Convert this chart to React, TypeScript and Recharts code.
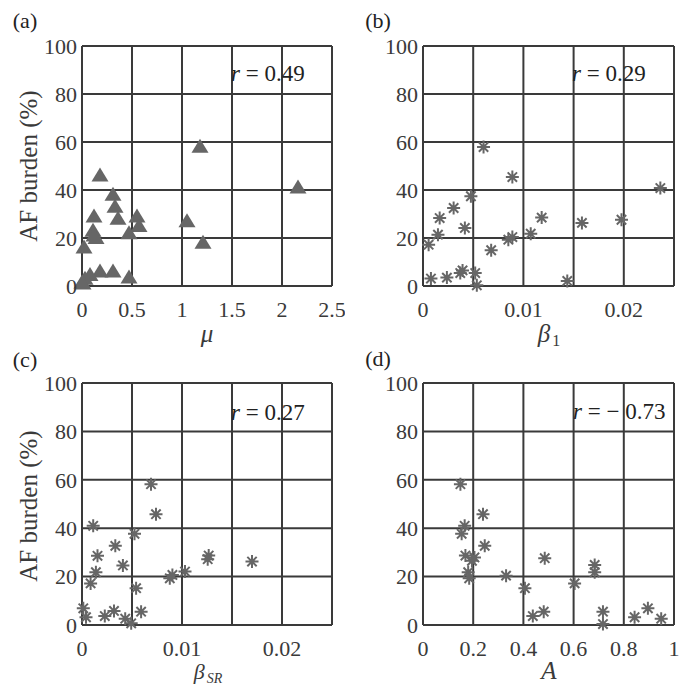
import { ScatterChart, Scatter, XAxis, YAxis, CartesianGrid } from 'recharts';

// (a) AF burden vs mu
const muValues = [1.18, 2.16, 0.18, 0.31, 0.33, 0.36, 0.12, 0.55, 0.57, 0.47, 1.05, 1.21, 0.11, 0.14, 0.02, 0.18, 0.31, 0.47, 0.08, 0.03, 0.01, 0.12, 0.0];
const muBurden = [58, 41, 46, 38, 33, 28, 29, 29, 25, 22, 27, 18, 23, 20, 16, 6, 6, 3.5, 4.6, 3, 1, 21, 1.5];

// (b) AF burden vs beta_1
const beta1Values = [0.00603, 0.0089, 0.02364, 0.00477, 0.00305, 0.00166, 0.00417, 0.00149, 0.00056, 0.01182, 0.01583, 0.01977, 0.01073, 0.0089, 0.0085, 0.00679, 0.00079, 0.00238, 0.00371, 0.00394, 0.0052, 0.00536, 0.01437];
const beta1Burden = [57.9, 45.4, 40.8, 37.4, 32.5, 28.3, 24.2, 21.4, 17.2, 28.5, 26.3, 27.6, 21.8, 20.4, 19.3, 14.9, 3.1, 3.5, 5.4, 6.5, 5.4, 0.3, 2.1];

// (c) AF burden vs beta_SR
const betaSRValues = [0.0069, 0.0074, 0.00112, 0.00525, 0.00333, 0.00155, 0.00409, 0.00139, 0.00086, 0.00541, 0.01267, 0.01257, 0.017, 0.0103, 0.00904, 0.00878, 0.00013, 0.0004, 0.00228, 0.0032, 0.00432, 0.00492, 0.00591];
const betaSRBurden = [58.2, 45.8, 41.0, 37.7, 32.7, 28.6, 24.6, 21.8, 17.2, 15.2, 28.7, 27.2, 26.2, 22.1, 20.7, 19.3, 6.9, 3.2, 3.7, 5.8, 2.6, 0.7, 5.5];

// (d) AF burden vs A
const aValues = [0.149, 0.239, 0.166, 0.154, 0.246, 0.169, 0.205, 0.195, 0.485, 0.18, 0.184, 0.331, 0.406, 0.604, 0.684, 0.684, 0.4375, 0.481, 0.717, 0.717, 0.843, 0.896, 0.949];
const aBurden = [58.2, 45.8, 41.0, 37.7, 32.7, 28.7, 27.9, 26.5, 27.6, 21.8, 19.3, 20.4, 15.2, 17.2, 24.8, 21.8, 3.7, 5.5, 5.5, 0.4, 3.2, 6.9, 2.6];

const yTicks = [0, 20, 40, 60, 80, 100];
const muTicks = [0, 0.5, 1, 1.5, 2, 2.5];
const betaTicks = [0, 0.005, 0.01, 0.015, 0.02, 0.025];
const betaTickLabels = [0, 0.01, 0.02];
const aTicks = [0, 0.2, 0.4, 0.6, 0.8, 1];
const rLabels = ['0.49', '0.29', '0.27', '\u2212 0.73'];

const GRID = '#3a3a3a';
const MARK = '#666666';
const TEXT = '#3a3a3a';
const FONT = 'Liberation Serif';

const toPoints = (xs: number[], ys: number[]) => xs.map((x, i) => ({ x, y: ys[i] }));

const Triangle = (props: any) => {
  const { cx, cy } = props;
  if (cx == null || cy == null) return null;
  return <polygon points={`${cx},${cy - 8} ${cx - 8.5},${cy + 6} ${cx + 8.5},${cy + 6}`} fill={MARK} />;
};

const Asterisk = (props: any) => {
  const { cx, cy } = props;
  if (cx == null || cy == null) return null;
  const r = 6.5;
  const d = r * 0.72;
  return (
    <path
      d={`M${cx - r},${cy}H${cx + r}M${cx},${cy - r}V${cy + r}M${cx - d},${cy - d}L${cx + d},${cy + d}M${cx - d},${cy + d}L${cx + d},${cy - d}`}
      stroke={MARK}
      strokeWidth={2}
      fill="none"
    />
  );
};

const fmtBeta = (v: number) => (betaTickLabels.some((t) => Math.abs(t - v) < 1e-9) ? String(v) : '');

const panels = [
  { key: 'a', left: 0, top: 0, height: 330, margin: { top: 46, left: 42, right: 13, bottom: 14 }, data: toPoints(muValues, muBurden), domain: [0, 2.5], ticks: muTicks, fmt: (v: number) => String(v), shape: Triangle },
  { key: 'b', left: 344, top: 0, height: 330, margin: { top: 46, left: 39, right: 15, bottom: 14 }, data: toPoints(beta1Values, beta1Burden), domain: [0, 0.025], ticks: betaTicks, fmt: fmtBeta, shape: Asterisk },
  { key: 'c', left: 0, top: 338, height: 345, margin: { top: 45, left: 42, right: 13, bottom: 28 }, data: toPoints(betaSRValues, betaSRBurden), domain: [0, 0.025], ticks: betaTicks, fmt: fmtBeta, shape: Asterisk },
  { key: 'd', left: 344, top: 338, height: 345, margin: { top: 45, left: 39, right: 15, bottom: 28 }, data: toPoints(aValues, aBurden), domain: [0, 1], ticks: aTicks, fmt: (v: number) => String(v), shape: Asterisk },
];

const labelStyle = (x: number, y: number, size: number, extra: any = {}) => ({
  position: 'absolute' as const,
  left: x,
  top: y,
  transform: 'translate(-50%, -50%)',
  fontFamily: FONT,
  fontSize: size,
  lineHeight: 1,
  whiteSpace: 'nowrap' as const,
  color: TEXT,
  ...extra,
});

const subStyle = (size: number, italic: boolean) => ({
  fontSize: size,
  position: 'relative' as const,
  top: 4,
  marginLeft: 2,
  fontStyle: italic ? 'italic' : 'normal',
});

const rBoxes = [
  { x: 231, y: 73 },
  { x: 572, y: 73 },
  { x: 231, y: 412 },
  { x: 573, y: 411 },
];

export default function App() {
  return (
    <div style={{ position: 'absolute', left: 0, top: 0, width: 689, height: 685, background: '#fff', overflow: 'hidden' }}>
      {panels.map((p) => (
        <div key={p.key} style={{ position: 'absolute', left: p.left, top: p.top }}>
          <ScatterChart width={345} height={p.height} margin={p.margin}>
            <CartesianGrid stroke={GRID} strokeWidth={2} />
            <XAxis
              type="number"
              dataKey="x"
              domain={p.domain}
              ticks={p.ticks}
              tickFormatter={p.fmt}
              interval={0}
              height={30}
              tickLine={false}
              tickSize={0}
              tickMargin={15}
              axisLine={{ stroke: GRID, strokeWidth: 2 }}
              tick={{ fontSize: 22, fill: TEXT, fontFamily: FONT }}
            />
            <YAxis
              type="number"
              dataKey="y"
              domain={[0, 100]}
              ticks={yTicks}
              interval={0}
              width={40}
              tickLine={false}
              tickSize={0}
              tickMargin={5}
              axisLine={{ stroke: GRID, strokeWidth: 2 }}
              tick={{ fontSize: 22, fill: TEXT, fontFamily: FONT }}
            />
            <Scatter data={p.data} shape={p.shape} isAnimationActive={false} />
          </ScatterChart>
        </div>
      ))}

      {/* panel letters */}
      <div style={labelStyle(25, 21, 22, { color: '#222' })}>(a)</div>
      <div style={labelStyle(378, 21, 22, { color: '#222' })}>(b)</div>
      <div style={labelStyle(25, 360, 22, { color: '#222' })}>(c)</div>
      <div style={labelStyle(378, 359, 22, { color: '#222' })}>(d)</div>

      {/* y axis titles */}
      <div style={labelStyle(28, 166, 25, { transform: 'translate(-50%, -50%) rotate(-90deg)' })}>AF burden (%)</div>
      <div style={labelStyle(28, 506, 25, { transform: 'translate(-50%, -50%) rotate(-90deg)' })}>AF burden (%)</div>

      {/* x axis titles */}
      <div style={labelStyle(207, 333, 25, { fontStyle: 'italic' })}>μ</div>
      <div style={labelStyle(549, 333, 25)}>
        <i>β</i>
        <span style={subStyle(16, false)}>1</span>
      </div>
      <div style={labelStyle(208, 672, 22)}>
        <i>β</i>
        <span style={subStyle(14, true)}>SR</span>
      </div>
      <div style={labelStyle(549, 670, 25, { fontStyle: 'italic' })}>A</div>

      {/* correlation labels */}
      {rBoxes.map((b, i) => (
        <div
          key={i}
          style={{
            position: 'absolute',
            left: b.x,
            top: b.y,
            transform: 'translateY(-50%)',
            fontFamily: FONT,
            fontSize: 23,
            lineHeight: 1,
            whiteSpace: 'nowrap',
            color: '#222',
          }}
        >
          <i>r</i> = {rLabels[i]}
        </div>
      ))}
    </div>
  );
}
